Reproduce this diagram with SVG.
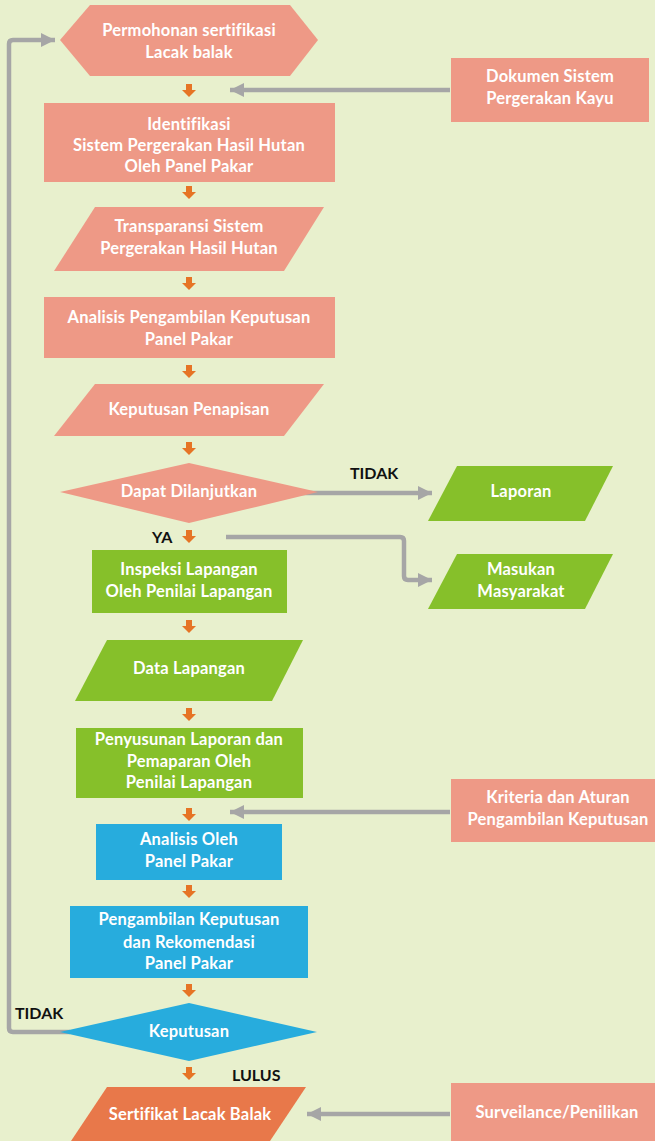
<svg xmlns="http://www.w3.org/2000/svg" xmlns:xlink="http://www.w3.org/1999/xlink" width="655" height="1141" viewBox="0 0 655 1141">
<style>
.s{fill:#EE9986}
.g{fill:#86C02A}
.b{fill:#27ACDD}
.o{fill:#E8784A}
.t{font-family:Lato,"Open Sans","Liberation Sans",sans-serif;font-weight:700;font-size:16.5px;letter-spacing:0.2px;fill:#FFFFFF;text-anchor:middle}
.l{font-family:Lato,"Open Sans","Liberation Sans",sans-serif;font-weight:700;font-size:16px;fill:#111111}
.c{fill:none;stroke:#A6A6A6;stroke-width:4.5}
</style>
<defs>
<g id="oa"><rect x="-3" y="0" width="6" height="7" fill="#E67425"/><polygon points="-7,6 7,6 0,13" fill="#E67425"/></g>
<marker id="ah" viewBox="0 0 14 14" refX="14" refY="7" markerWidth="14" markerHeight="14" markerUnits="userSpaceOnUse" orient="auto"><polygon points="0,0 14,7 0,14" fill="#A6A6A6"/></marker>
</defs>
<rect width="655" height="1141" fill="#E8F0CD"/>
<g id="connectors">
<path class="c" d="M450,90 H230" marker-end="url(#ah)"/>
<path class="c" d="M450,812 H230" marker-end="url(#ah)"/>
<path class="c" d="M450,1114 H307" marker-end="url(#ah)"/>
<path class="c" d="M300,493 H432" marker-end="url(#ah)"/>
<path class="c" d="M226,537 H400 Q404,537 404,541 V576 Q404,580 408,580 H432" marker-end="url(#ah)"/>
<path class="c" d="M70,1032 H13 Q9,1032 9,1028 V44 Q9,40 13,40 H55" marker-end="url(#ah)"/>
<use href="#oa" x="189" y="84"/>
<use href="#oa" x="189" y="186"/>
<use href="#oa" x="189" y="277"/>
<use href="#oa" x="189" y="365"/>
<use href="#oa" x="189" y="442"/>
<use href="#oa" x="189" y="530"/>
<use href="#oa" x="189" y="620"/>
<use href="#oa" x="189" y="708"/>
<use href="#oa" x="189" y="808"/>
<use href="#oa" x="189" y="885"/>
<use href="#oa" x="189" y="984"/>
<use href="#oa" x="189" y="1067"/>
<text class="l" x="350" y="479">TIDAK</text>
<text class="l" x="152" y="543">YA</text>
<text class="l" x="15" y="1019">TIDAK</text>
<text class="l" x="232" y="1081">LULUS</text>
</g>
<g id="n1"><polygon class="s" points="60,40 90,5 290,5 318,40 290,76 90,76"/><text class="t" x="189" y="36">Permohonan sertifikasi</text><text class="t" x="189" y="58">Lacak balak</text></g>
<g id="n2"><rect class="s" x="451" y="58" width="198" height="64"/><text class="t" x="550" y="82">Dokumen Sistem</text><text class="t" x="550" y="104">Pergerakan Kayu</text></g>
<g id="n3"><rect class="s" x="44" y="103" width="291" height="79"/><text class="t" x="189" y="130">Identifikasi</text><text class="t" x="189" y="151">Sistem Pergerakan Hasil Hutan</text><text class="t" x="189" y="172">Oleh Panel Pakar</text></g>
<g id="n4"><polygon class="s" points="95,207 324,207 284,271 54,271"/><text class="t" x="189" y="232">Transparansi Sistem</text><text class="t" x="189" y="254">Pergerakan Hasil Hutan</text></g>
<g id="n5"><rect class="s" x="44" y="297" width="291" height="61"/><text class="t" x="189" y="323">Analisis Pengambilan Keputusan</text><text class="t" x="189" y="345">Panel Pakar</text></g>
<g id="n6"><polygon class="s" points="95,384 324,384 284,436 54,436"/><text class="t" x="189" y="415">Keputusan Penapisan</text></g>
<g id="n7"><polygon class="s" points="60,492 189,463 318,492 189,523"/><text class="t" x="189" y="497">Dapat Dilanjutkan</text></g>
<g id="n8"><polygon class="g" points="457,466 613,466 585,521 428,521"/><text class="t" x="521" y="497">Laporan</text></g>
<g id="n9"><rect class="g" x="92" y="550" width="195" height="63"/><text class="t" x="189" y="575">Inspeksi Lapangan</text><text class="t" x="189" y="597">Oleh Penilai Lapangan</text></g>
<g id="n10"><polygon class="g" points="457,554 613,554 585,609 428,609"/><text class="t" x="521" y="575">Masukan</text><text class="t" x="521" y="597">Masyarakat</text></g>
<g id="n11"><polygon class="g" points="107,640 303,640 272,701 75,701"/><text class="t" x="189" y="674">Data Lapangan</text></g>
<g id="n12"><rect class="g" x="76" y="728" width="227" height="70"/><text class="t" x="189" y="745">Penyusunan Laporan dan</text><text class="t" x="189" y="767">Pemaparan Oleh</text><text class="t" x="189" y="788">Penilai Lapangan</text></g>
<g id="n13"><rect class="s" x="451" y="779" width="214" height="63"/><text class="t" x="558" y="803">Kriteria dan Aturan</text><text class="t" x="558" y="825">Pengambilan Keputusan</text></g>
<g id="n14"><rect class="b" x="96" y="824" width="186" height="56"/><text class="t" x="189" y="845">Analisis Oleh</text><text class="t" x="189" y="867">Panel Pakar</text></g>
<g id="n15"><rect class="b" x="70" y="906" width="238" height="72"/><text class="t" x="189" y="925">Pengambilan Keputusan</text><text class="t" x="189" y="948">dan Rekomendasi</text><text class="t" x="189" y="969">Panel Pakar</text></g>
<g id="n16"><polygon class="b" points="60,1032 189,1003 317,1032 189,1061"/><text class="t" x="189" y="1037">Keputusan</text></g>
<g id="n17"><polygon class="o" points="107,1087 306,1087 270,1141 71,1141"/><text class="t" x="190" y="1120">Sertifikat Lacak Balak</text></g>
<g id="n18"><rect class="s" x="451" y="1083" width="214" height="58"/><text class="t" x="557" y="1118">Surveilance/Penilikan</text></g>
</svg>
